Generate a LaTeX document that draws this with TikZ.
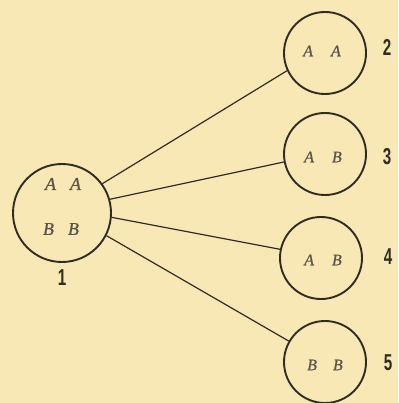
\documentclass[tikz,border=0pt]{standalone}
\usepackage{fontspec}
\newfontfamily\numfont[FakeStretch=0.66]{Liberation Sans}
\newfontfamily\letfont[FakeBold=0.8]{Liberation Serif}
\definecolor{paper}{RGB}{248,232,182}
\definecolor{ink}{RGB}{48,44,34}
\definecolor{letter}{RGB}{90,86,70}
\begin{document}
\begin{tikzpicture}[x=1pt,y=-1pt,
  bigcirc/.style={circle,draw=ink,line width=1.9pt,minimum size=98pt,inner sep=0pt},
  smallcirc/.style={circle,draw=ink,line width=1.9pt,minimum size=82pt,inner sep=0pt},
  lett/.style={text=letter,font=\fontsize{18}{18}\selectfont\letfont\itshape},
  slett/.style={text=letter,font=\fontsize{16}{16}\selectfont\letfont\itshape},
  num/.style={text=ink,font=\fontsize{23}{23}\selectfont\numfont\bfseries},
  link/.style={draw=ink,line width=1.2pt}]
\fill[paper] (0,0) rectangle (398,403);
\useasboundingbox (0,0) rectangle (398,403);
\node[bigcirc] (c1) at (62,213) {};
\node[smallcirc] (c2) at (325,53) {};
\node[smallcirc] (c3) at (325,154) {};
\node[smallcirc] (c4) at (321,258) {};
\node[smallcirc] (c5) at (325,362) {};
% letters
\node[lett] (t1a) at (63,184) {A\hspace{14pt}A};
\node[lett] (t1b) at (61,229) {B\hspace{14pt}B};
\node[slett] (t2) at (322,51) {A\hspace{18pt}A};
\node[slett] (t3) at (323,157) {A\hspace{18pt}B};
\node[slett] (t4) at (323,260) {A\hspace{18pt}B};
\node[slett] (t5) at (325,365) {B\hspace{16pt}B};
% numbers
\node[num] (n1) at (62,278) {1};
\node[num] (n2) at (387,47) {2};
\node[num] (n3) at (387,157) {3};
\node[num] (n4) at (388,257) {4};
\node[num] (n5) at (388,363) {5};
% connectors
\draw[link] (c1.36) -- (c2.205);
\draw[link] (c1.16) -- (c3.191);
\draw[link] (c1.-5) -- (c4.168);
\draw[link] (c1.-27) -- (c5.150);
\end{tikzpicture}
\end{document}
